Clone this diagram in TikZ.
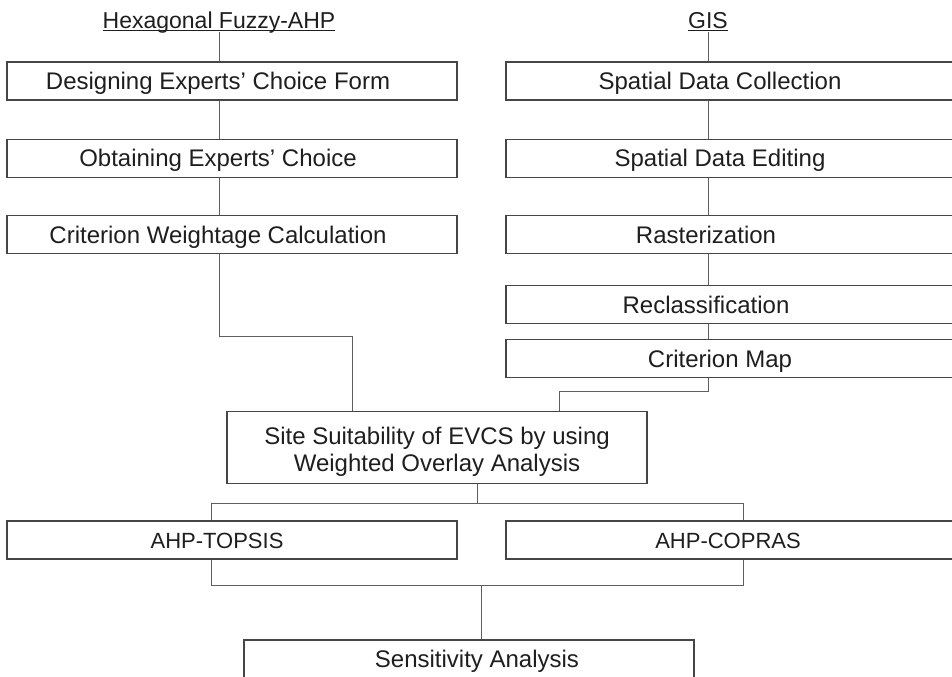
\documentclass[tikz,border=0pt]{standalone}
\usepackage{fontspec}
\setmainfont{Liberation Sans}
\usetikzlibrary{positioning}
\definecolor{boxgray}{RGB}{70,70,70}
\definecolor{linegray}{RGB}{95,95,95}
\definecolor{textgray}{RGB}{30,30,30}

\begin{document}
\begin{tikzpicture}[x=0.5pt, y=-0.5pt,
    stage/.style={draw=boxgray, line width=0.6pt, minimum width=225pt, minimum height=19pt,
        inner sep=0pt, text=textgray, font=\fontsize{12}{14}\selectfont},
    oneline/.style={text height=8.6pt, text depth=0pt},
    nudge/.style={execute at begin node={\hspace*{#1}}},
    method/.style={stage, oneline, font=\fontsize{11}{13}\selectfont},
    head/.style={text=textgray, font=\fontsize{11.5}{14}\selectfont, anchor=base, inner sep=0pt},
    conn/.style={draw=linegray, line width=0.5pt}]
    \useasboundingbox (0,0) rectangle (952,676);
    \clip (0,0) rectangle (952,676);
    % fuzzy AHP side
    \node[head] (hex) at (219,28) {\underline{\smash{Hexagonal Fuzzy-AHP}}};
    \node[stage, oneline, nudge=-14pt] (des) at (232,81) {Designing Experts' Choice Form};
    \node[stage, oneline, nudge=-14pt, below = 19pt of des] (obt) {Obtaining Experts' Choice};
    \node[stage, oneline, nudge=-14pt, below = 18.5pt of obt] (wgt) {Criterion Weightage Calculation};
    % GIS side
    \node[head] (gis) at (708,28) {\underline{\smash{GIS}}};
    \node[stage, oneline, nudge=-11pt] (col) at (731,81) {Spatial Data Collection};
    \node[stage, oneline, nudge=-11pt, below = 19pt of col] (edt) {Spatial Data Editing};
    \node[stage, oneline, nudge=-25pt, below = 18.5pt of edt] (ras) {Rasterization};
    \node[stage, oneline, nudge=-25pt, below = 15.5pt of ras] (rcl) {Reclassification};
    \node[stage, oneline, nudge=-11pt, below = 7.5pt of rcl] (map) {Criterion Map};
    % overlay and ranking
    \node[stage, minimum width=210pt, minimum height=36pt, align=center,
        text height=24.1pt, text depth=0pt,
        font=\fontsize{12}{13.5}\selectfont] (ovl) at (437,447.5)
        {Site Suitability of EVCS by using\\Weighted Overlay Analysis};
    \node[method, nudge=-15pt] (top) at (232,540) {AHP-TOPSIS};
    \node[method, nudge=-3pt] (cop) at (731,540) {AHP-COPRAS};
    \node[stage, oneline, nudge=8pt] (sen) at (469,659) {Sensitivity Analysis};
    % connectors
    \coordinate (jl) at (352,336);
    \coordinate (jr) at (559,391);
    \coordinate (sm) at (477,503);
    \coordinate (sl) at (211,503);
    \coordinate (sr) at (743,503);
    \coordinate (ml) at (211,585);
    \coordinate (mr) at (743,585);
    \coordinate (mm) at (481,585);
    \draw[conn] (hex.south) -- (hex |- des.north);
    \draw[conn] (hex |- des.south) -- (hex |- obt.north);
    \draw[conn] (hex |- obt.south) -- (hex |- wgt.north);
    \draw[conn] (hex |- wgt.south) |- (jl) -- (jl |- ovl.north);
    \draw[conn] (gis.south) -- (gis |- col.north);
    \draw[conn] (gis |- col.south) -- (gis |- edt.north);
    \draw[conn] (gis |- edt.south) -- (gis |- ras.north);
    \draw[conn] (gis |- ras.south) -- (gis |- rcl.north);
    \draw[conn] (gis |- rcl.south) -- (gis |- map.north);
    \draw[conn] (gis |- map.south) |- (jr) -- (jr |- ovl.north);
    \draw[conn] (sm |- ovl.south) -- (sm);
    \draw[conn] (sl |- top.north) -- (sl) -- (sr) -- (sr |- cop.north);
    \draw[conn] (ml |- top.south) -- (ml) -- (mr) -- (mr |- cop.south);
    \draw[conn] (mm) -- (mm |- sen.north);
\end{tikzpicture}
\end{document}
